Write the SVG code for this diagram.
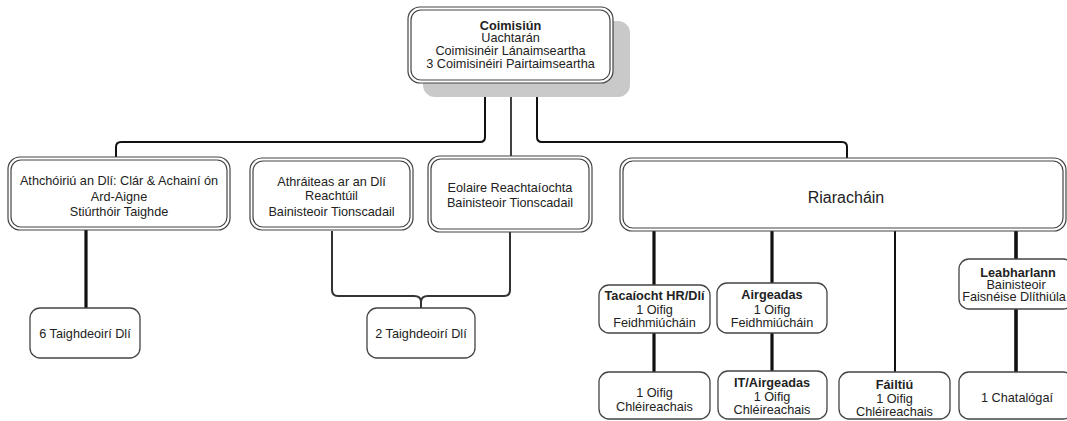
<svg xmlns="http://www.w3.org/2000/svg" width="1067" height="421" viewBox="0 0 1067 421">
<style>
text{font-family:"Liberation Sans",Arial,sans-serif;font-size:12.7px;fill:#222;text-anchor:middle}
.b{font-weight:bold}
.big{font-size:16px}
.o{fill:#fff;stroke:#444;stroke-width:1.2}
.i{fill:none;stroke:#444;stroke-width:1.2}
.s{fill:#fff;stroke:#444;stroke-width:1.3}
.c{fill:none;stroke:#111;stroke-width:2}
.t{fill:none;stroke:#111;stroke-width:3.2}
.g{fill:none;stroke:#333;stroke-width:2}
</style>
<g id="connectors">
<path class="c" d="M485 83 V137 Q485 142 480 142 H121 Q116 142 116 147 V157"/>
<path class="c" d="M511 83 V156" style="stroke-width:1.6"/>
<path class="c" d="M537 83 V137 Q537 142 542 142 H842 Q847 142 847 147 V158"/>
<path class="t" d="M86 230 V308"/>
<path class="g" d="M332 231 V290 Q332 296 338 296 H414 Q421 296 421 302 Q421 296 428 296 H504 Q510 296 510 290 V232"/>
<path class="g" d="M421 300 V308"/>
<path class="t" d="M654 231 V285"/>
<path class="t" d="M654 333 V372"/>
<path class="t" d="M772 231 V283"/>
<path class="t" d="M772 333 V371"/>
<path class="c" d="M895 231 V372"/>
<path class="t" d="M1016 231 V259" style="stroke-width:3.6"/>
<path class="t" d="M1016 309 V372" style="stroke-width:3.6"/>
</g>
<g id="coimisiun">
<rect x="423" y="21" width="207" height="76" rx="12" fill="#c9c9c9"/>
<rect class="o" x="408" y="7" width="205" height="76" rx="12"/>
<rect class="i" x="411" y="10" width="199" height="70" rx="10"/>
<text class="b" x="510.5" y="29.5">Coimisiún</text>
<text x="510.5" y="41.5">Uachtarán</text>
<text x="510.5" y="54.5">Coimisinéir Lánaimseartha</text>
<text x="510.5" y="67.5">3 Coimisinéiri Pairtaimseartha</text>
</g>
<g id="athchoiriu">
<rect class="o" x="8" y="157" width="222" height="73" rx="12"/>
<rect class="i" x="11" y="160" width="216" height="67" rx="10"/>
<text x="119" y="184.5">Athchóiriú an Dlí: Clár &amp; Achainí ón</text>
<text x="119" y="200.5">Ard-Aigne</text>
<text x="119" y="215.5">Stiúrthóir Taighde</text>
</g>
<g id="athraiteas">
<rect class="o" x="250" y="158" width="163" height="72" rx="12"/>
<rect class="i" x="253" y="161" width="157" height="66" rx="10"/>
<text x="331.5" y="185.5">Athráiteas ar an Dlí</text>
<text x="331.5" y="200">Reachtúil</text>
<text x="331.5" y="215.5">Bainisteoir Tionscadail</text>
</g>
<g id="eolaire">
<rect class="o" x="428" y="156" width="164" height="76" rx="12"/>
<rect class="i" x="431" y="159" width="158" height="70" rx="10"/>
<text x="510" y="191.5">Eolaire Reachtaíochta</text>
<text x="510" y="206.5">Bainisteoir Tionscadail</text>
</g>
<g id="riarachain">
<rect class="o" x="620" y="158" width="446" height="73" rx="12"/>
<rect class="i" x="623" y="161" width="440" height="67" rx="10"/>
<text class="big" x="846" y="202.5">Riaracháin</text>
</g>
<g id="taighdeoiri6">
<rect class="s" x="30" y="308" width="110" height="50" rx="10"/>
<text x="85" y="337.5">6 Taighdeoirí Dlí</text>
</g>
<g id="taighdeoiri2">
<rect class="s" x="367" y="308" width="108" height="50" rx="10"/>
<text x="421" y="337.5">2 Taighdeoirí Dlí</text>
</g>
<g id="tacaiocht">
<rect class="s" x="599" y="285" width="111" height="48" rx="10"/>
<text class="b" x="654.5" y="299.5">Tacaíocht HR/Dlí</text>
<text x="654.5" y="313.5">1 Oifig</text>
<text x="654.5" y="327">Feidhmiúcháin</text>
</g>
<g id="airgeadas">
<rect class="s" x="717" y="283" width="110" height="50" rx="10"/>
<text class="b" x="772" y="298.5">Airgeadas</text>
<text x="772" y="313.5">1 Oifig</text>
<text x="772" y="327">Feidhmiúcháin</text>
</g>
<g id="leabharlann">
<rect class="s" x="959" y="259" width="114" height="50" rx="10"/>
<text class="b" x="1018" y="276.5">Leabharlann</text>
<text x="1016" y="288.5">Bainisteoir</text>
<text x="1014" y="300.5">Faisnéise Dlíthiúla</text>
</g>
<g id="cleireachais1">
<rect class="s" x="599" y="372" width="111" height="47" rx="10"/>
<text x="654.5" y="396.5">1 Oifig</text>
<text x="654.5" y="410.5">Chléireachais</text>
</g>
<g id="itairgeadas">
<rect class="s" x="718" y="371" width="109" height="48" rx="10"/>
<text class="b" x="772" y="386.5">IT/Airgeadas</text>
<text x="772" y="400.5">1 Oifig</text>
<text x="772" y="414">Chléireachais</text>
</g>
<g id="failtiu">
<rect class="s" x="839" y="372" width="111" height="47" rx="10"/>
<text class="b" x="894.5" y="389">Fáiltiú</text>
<text x="894.5" y="402.5">1 Oifig</text>
<text x="894.5" y="415.5">Chléireachais</text>
</g>
<g id="catalogai">
<rect class="s" x="959" y="372" width="114" height="47" rx="10"/>
<text x="1017" y="401.5">1 Chatalógaí</text>
</g>
</svg>
